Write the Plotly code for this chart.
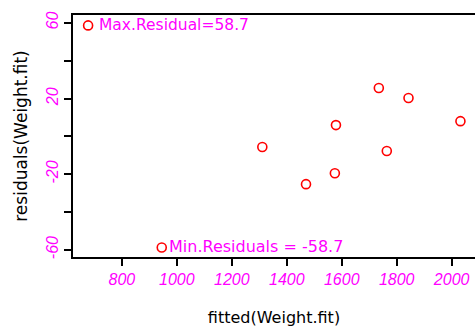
import plotly.graph_objects as go

fitted = [677, 945, 1311, 1470, 1575, 1579, 1735, 1764, 1843, 2032]
resid = [58.7, -58.7, -5.6, -25.2, -19.4, 6.0, 25.6, -7.7, 20.3, 8.1]
ytick_vals = [-60, -40, -20, 0, 20, 40, 60]
ytick_text = ["-60", "", "-20", "", "20", "", "60"]
xtick_vals = [800, 1000, 1200, 1400, 1600, 1800, 2000]
max_label = "Max.Residual=58.7"
min_label = "Min.Residuals = -58.7"

MAG = "#ff00ff"
fig = go.Figure()
fig.add_trace(go.Scatter(
    x=fitted, y=resid, mode="markers",
    marker=dict(symbol="circle-open", size=9, color="#ff0000", line=dict(width=1.6, color="#ff0000")),
    showlegend=False, hoverinfo="skip"))

imax = resid.index(max(resid))
imin = resid.index(min(resid))
fig.add_annotation(x=fitted[imax], y=resid[imax], text=max_label, showarrow=False,
                   xanchor="left", yanchor="middle", xshift=9,
                   font=dict(family="DejaVu Sans", size=15.5, color=MAG))
fig.add_annotation(x=fitted[imin], y=resid[imin], text=min_label, showarrow=False,
                   xanchor="left", yanchor="middle", xshift=5, yshift=1,
                   font=dict(family="DejaVu Sans", size=16, color=MAG))

fig.update_layout(
    width=475, height=327,
    margin=dict(l=73, r=0, t=15, b=70),
    paper_bgcolor="white", plot_bgcolor="white",
    font=dict(family="Liberation Sans"),
    xaxis=dict(range=[622, 2085], tickvals=xtick_vals, showgrid=False, zeroline=False,
               showline=True, linecolor="black", linewidth=2, mirror=True,
               ticks="outside", ticklen=7, tickwidth=1.5, tickcolor="black",
               tickfont=dict(family="Liberation Sans", size=16, color=MAG, style="italic"),
               title=dict(text="fitted(Weight.fit)", standoff=25,
                          font=dict(family="DejaVu Sans", size=16, color="black"))),
    yaxis=dict(range=[-63.7, 64.2], tickvals=ytick_vals, ticktext=ytick_text, tickangle=-90,
               showgrid=False, zeroline=False,
               showline=True, linecolor="black", linewidth=2,
               ticks="outside", ticklen=7, tickwidth=1.5, tickcolor="black",
               tickfont=dict(family="Liberation Sans", size=16, color=MAG, style="italic"),
               title=dict(text="residuals(Weight.fit)", standoff=12,
                          font=dict(family="DejaVu Sans", size=17, color="black"))),
)
fig.write_html("out.html")
